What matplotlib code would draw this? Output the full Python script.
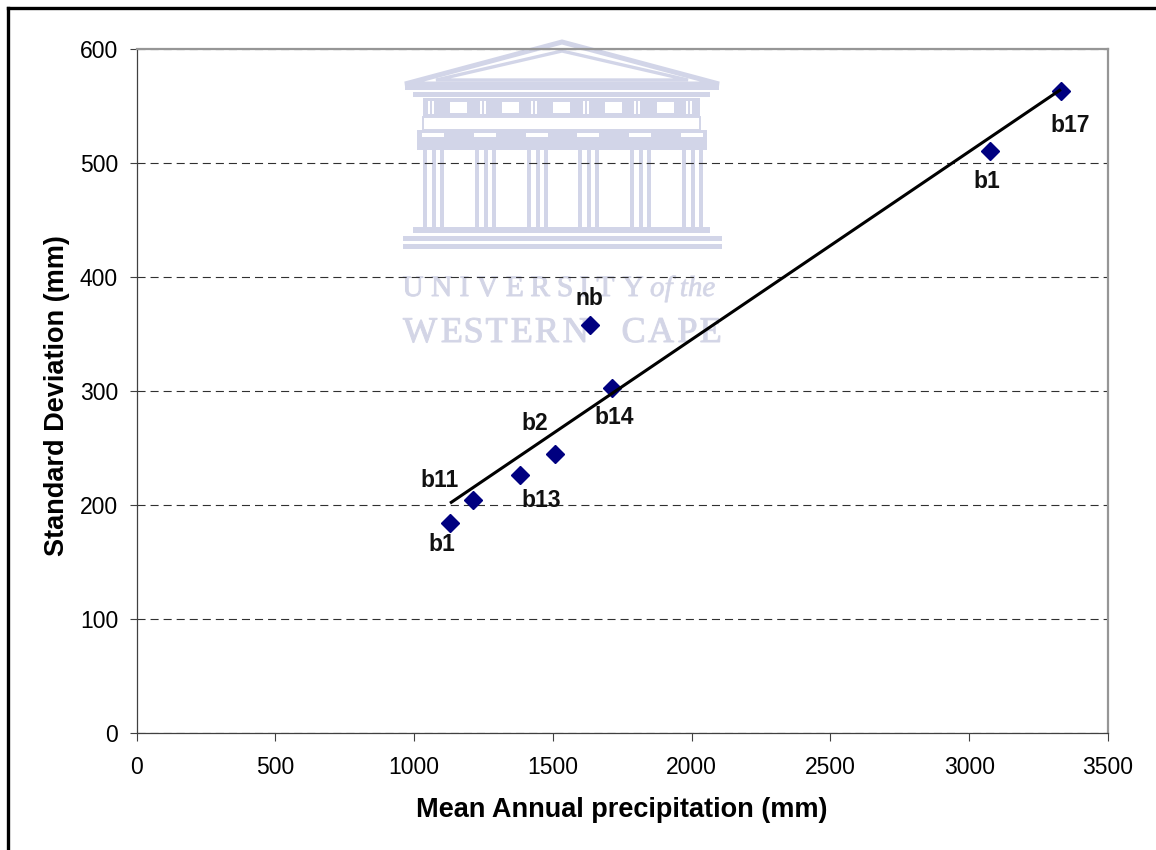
import numpy as np
import matplotlib
matplotlib.use("Agg")
import matplotlib.pyplot as plt
from matplotlib.patches import Polygon, Rectangle, PathPatch
from matplotlib.lines import Line2D
from matplotlib.textpath import TextPath
from matplotlib.font_manager import FontProperties
from matplotlib.transforms import Affine2D

# Station data: mean annual precipitation vs standard deviation (mm)
stations = ["b1", "b11", "b13", "b2", "nb", "b14", "b1", "b17"]
mean_annual = [1129, 1212, 1381, 1509, 1633, 1713, 3076, 3330]
std_dev = [184.5, 205, 227, 245, 358, 302.5, 511, 563]

# label offsets (pixels) for each station label
label_offsets = [(-8, -22), (-33, 19), (21, -26), (-21, 30), (0, 27), (2, -29), (-3, -31), (9, -34)]

x_ticks = [0, 500, 1000, 1500, 2000, 2500, 3000, 3500]
y_ticks = [0, 100, 200, 300, 400, 500, 600]

W, H = 1156, 850
plt.rcParams["font.family"] = "Liberation Sans"
plt.rcParams["lines.scale_dashes"] = False

fig = plt.figure(figsize=(W / 100, H / 100), dpi=100)
fig.patch.set_facecolor("white")

x0, x1, y0, y1 = 136.7, 1108, 49.3, 733.3
ax = fig.add_axes([x0 / W, 1 - y1 / H, (x1 - x0) / W, (y1 - y0) / H])
ax.set_xlim(0, 3500)
ax.set_ylim(0, 600)
ax.set_xticks(x_ticks)
ax.set_yticks(y_ticks)
ax.tick_params(direction="out", length=5.4, width=0.8, color="#404040",
               labelsize=16.5, labelcolor="black")
ax.tick_params(axis="x", pad=11)
ax.tick_params(axis="y", pad=8)

for side in ("left", "bottom"):
    ax.spines[side].set_color("#404040")
    ax.spines[side].set_linewidth(0.9)
for side in ("top", "right"):
    ax.spines[side].set_color("#969696")
    ax.spines[side].set_linewidth(1.6)

ax.set_axisbelow(True)
ax.yaxis.grid(True, color="#303030", linewidth=0.8, linestyle=(0, (5.8, 3.6)))

# pixel-space transform (y downwards) for the background emblem
wm = Affine2D().scale(1 / W, -1 / H).translate(0, 1) + fig.transFigure
BLD = "#d2d5e8"
TXT = "#d3d5e6"


def add(p):
    p.set_transform(wm)
    p.set_clip_on(False)
    p.set_zorder(0.3)
    ax.add_artist(p)


# emblem: pediment
add(Polygon([(405, 84), (562, 42), (719, 84)], closed=True, fill=False,
            edgecolor=BLD, linewidth=3.6, joinstyle="miter"))
add(Polygon([(436, 80), (562, 51), (688, 80)], closed=True, fill=False,
            edgecolor=BLD, linewidth=2.4, joinstyle="miter"))
# cornice
add(Rectangle((405, 85), 314, 5, facecolor=BLD, edgecolor="none"))
add(Rectangle((413, 92), 297, 5, facecolor=BLD, edgecolor="none"))
# frieze with metopes
add(Rectangle((423, 98), 277, 19, facecolor=BLD, edgecolor="none"))
for mx in (450, 502, 553, 605, 657):
    add(Rectangle((mx, 102), 17, 11, facecolor="white", edgecolor="none"))
for tx in (428, 432, 480, 484, 531, 535, 583, 587, 634, 638, 686, 690):
    add(Rectangle((tx, 101), 1.8, 13, facecolor="white", edgecolor="none"))
add(Rectangle((423, 117), 277, 13, facecolor="none", edgecolor=BLD, linewidth=1.4))
# architrave
add(Rectangle((417, 130), 290, 20, facecolor=BLD, edgecolor="none"))
col_x = [433, 485, 537, 588, 640, 692]
for cx in col_x:
    add(Rectangle((cx - 11, 133), 22, 4, facecolor="white", edgecolor="none"))
    for dx in (-8, 0.5, 8.5):
        add(Rectangle((cx + dx - 2, 140), 4, 87, facecolor=BLD, edgecolor="none"))
# base steps
add(Rectangle((413, 227), 297, 6, facecolor=BLD, edgecolor="none"))
add(Rectangle((403, 236), 319, 5, facecolor=BLD, edgecolor="none"))
add(Rectangle((403, 244), 319, 5, facecolor=BLD, edgecolor="none"))


def spaced_word(text, xa, xb, baseline, cap, prop):
    size = cap / 0.662
    paths = [TextPath((0, 0), ch, size=size, prop=prop) for ch in text]
    exts = [p.get_extents() for p in paths]
    total = sum(e.width for e in exts)
    gap = (xb - xa - total) / max(len(text) - 1, 1)
    x = xa
    for p, e in zip(paths, exts):
        tr = Affine2D().translate(-e.x0, 0).scale(1, -1).translate(x, baseline)
        add(PathPatch(tr.transform_path(p), facecolor=TXT, edgecolor=TXT,
                      linewidth=0.7))
        x += e.width + gap


serif = FontProperties(family="Liberation Serif")
serif_it = FontProperties(family="Liberation Serif", style="italic")
spaced_word("UNIVERSITY", 403, 643, 296, 19.5, serif)
spaced_word("WESTERN", 403, 588, 342, 24, serif)
spaced_word("CAPE", 623, 720, 342, 24, serif)
ofthe = TextPath((0, 0), "of the", size=29, prop=serif_it)
add(PathPatch(Affine2D().scale(1, -1).translate(650, 296).transform_path(ofthe),
              facecolor=TXT, edgecolor=TXT, linewidth=0.5))

# linear trend line over the data range
coef = np.polyfit(mean_annual, std_dev, 1)
xs = np.array([min(mean_annual), max(mean_annual)])
ax.plot(xs, np.polyval(coef, xs), color="black", linewidth=2.2, zorder=4,
        solid_capstyle="butt")

ax.plot(mean_annual, std_dev, linestyle="none", marker="D", markersize=9,
        color="#000080", markeredgecolor="#000080", zorder=3)

for name, xv, yv, off in zip(stations, mean_annual, std_dev, label_offsets):
    ax.annotate(name, (xv, yv), xytext=off, textcoords="offset pixels",
                ha="center", va="center", fontsize=16.5, fontweight="bold",
                color="#111111", zorder=5)

fig.text(622 / W, 1 - 810 / H, "Mean Annual precipitation (mm)", ha="center",
         va="center", fontsize=19.5, fontweight="bold")
fig.text(57 / W, 1 - 396 / H, "Standard Deviation (mm)", ha="center",
         va="center", rotation=90, fontsize=19.5, fontweight="bold")

# outer chart frame (top and left edges)
fig.add_artist(Line2D([8 / W, 1.0], [1 - 7.5 / H, 1 - 7.5 / H], transform=fig.transFigure,
                      color="black", linewidth=2.4))
fig.add_artist(Line2D([8 / W, 8 / W], [0, 1 - 7.5 / H], transform=fig.transFigure,
                      color="black", linewidth=2.4, solid_capstyle="projecting"))

fig.savefig("out.png", dpi=100)
